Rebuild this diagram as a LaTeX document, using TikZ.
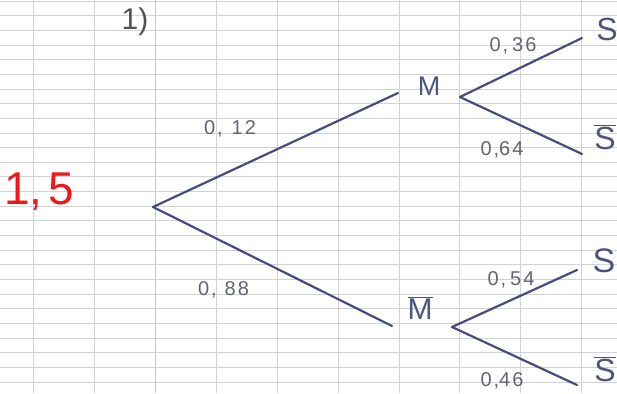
\documentclass[tikz,border=0pt]{standalone}
\usepackage{fontspec}
\setmainfont{Liberation Sans}
\newfontfamily\hand[LetterSpace=10]{Liberation Sans}
\definecolor{ink}{RGB}{68,78,126}
\definecolor{pencil}{RGB}{96,100,118}
\definecolor{gridc}{RGB}{210,210,215}
\definecolor{marginc}{RGB}{232,185,205}
\definecolor{redpen}{RGB}{238,24,24}
\tikzset{
  branch/.style={draw=ink, line width=2.2pt, line cap=round},
  prob/.style={text=pencil, inner sep=0pt, font=\hand\fontsize{20}{20}\selectfont},
  event/.style={text=ink!85!gray, inner sep=0pt},
  gridline/.style={draw=gridc, line width=0.7pt},
}
\newcommand{\bbar}[1]{$\overline{\hbox{#1}}$}
\begin{document}
\begin{tikzpicture}[x=1pt,y=-1pt]
\useasboundingbox (0,0) rectangle (617,393);
\fill[white] (0,0) rectangle (617,393);
% paper ruling
\foreach \i in {0,...,27} \draw[gridline] (0,{1+14.65*\i}) -- (617,{1+14.65*\i});
\foreach \x in {33.5,94,216,277,338,399,459.5,520,581} \draw[gridline] (\x,0) -- (\x,393);
\draw[draw=marginc, line width=1pt] (155,0) -- (155,393);
% tree points
\coordinate (root) at (153,207);
\node[event, font=\fontsize{27}{27}\selectfont] (M) at (429,86) {M};
\node[event, font=\fontsize{30}{30}\selectfont] (Mb) at (420,308) {\bbar{M}};
\coordinate (Min) at (398,93);
\coordinate (Mout) at (460,97);
\coordinate (Mbin) at (392,326);
\coordinate (Mbout) at (452,327);
\coordinate (S1e) at (582,38);
\coordinate (S1be) at (582,154);
\coordinate (S2e) at (577,270);
\coordinate (S2be) at (577,385);
\node[event, font=\fontsize{32}{32}\selectfont] (S1) at (607,29) {S};
\node[event, font=\fontsize{32}{32}\selectfont] (S1b) at (605,137) {\bbar{S}};
\node[event, font=\fontsize{34}{34}\selectfont] (S2) at (604,261) {S};
\node[event, font=\fontsize{32}{32}\selectfont] (S2b) at (605,369) {\bbar{S}};
% branches
\draw[branch] (root) -- (Min);
\draw[branch] (root) -- (Mbin);
\draw[branch] (Mout) -- (S1e);
\draw[branch] (Mout) -- (S1be);
\draw[branch] (Mbout) -- (S2e);
\draw[branch] (Mbout) -- (S2be);
% probabilities
\node[prob] (p1) at (230,128.5) {0,\hspace{9pt}12};
\node[prob] (p2) at (223.5,289.5) {0,\hspace{8pt}88};
\node[prob] (p3) at (513,45.5) {0,\hspace{4pt}36};
\node[prob] (p4) at (502,149.5) {0,\hspace{0pt}64};
\node[prob] (p5) at (511,279.5) {0,\hspace{4pt}54};
\node[prob] (p6) at (502,381) {0,\hspace{0pt}46};
% annotations
\node[text=pencil!80!black, inner sep=0pt, font=\fontsize{30}{30}\selectfont] (q) at (135,22) {1)};
\node[text=redpen, inner sep=0pt, font=\fontsize{46}{46}\selectfont] (mark) at (39,192) {1,\hspace{6pt}5};
\end{tikzpicture}
\end{document}
